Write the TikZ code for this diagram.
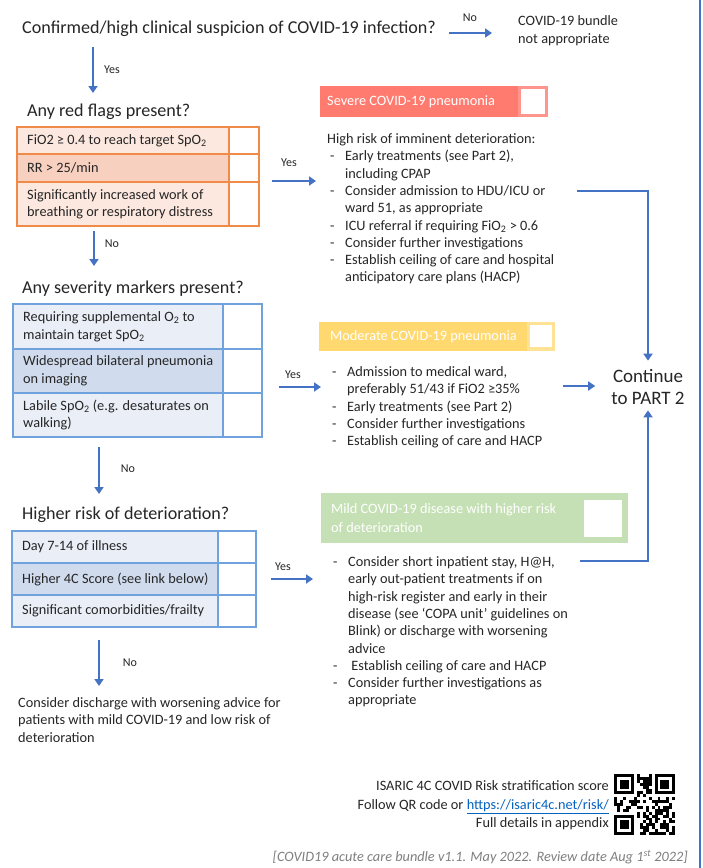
\documentclass[tikz,border=0pt]{standalone}
\usepackage{fontspec}
\setmainfont{Carlito}
\usetikzlibrary{arrows.meta}
\newcommand{\lstdash}{\makebox[18pt][l]{\hspace{3pt}-}}
\newcommand{\lstind}{\hspace{18pt}}
\newcommand{\lsub}[1]{\textsubscript{#1}}
\begin{document}
\begin{tikzpicture}[x=1pt, y=-1pt,
  every node/.style={inner sep=0pt, text=ink},
  arr/.style={draw=flowblue, line width=1.8pt, -{Triangle[width=9pt,length=7pt]}},
  yn/.style={font=\fontsize{12}{14}\selectfont},
  ques/.style={anchor=base west, font=\fontsize{18.1}{22}\selectfont},
  body/.style={font=\fontsize{14.3}{17.3}\selectfont},
  hdr/.style={anchor=west, text=white, font=\fontsize{14.3}{17}\selectfont}]
\definecolor{ink}{HTML}{262626}
\definecolor{flowblue}{HTML}{4472C4}
\definecolor{redlt}{HTML}{FCE8DF}
\definecolor{reddk}{HTML}{F7D0C0}
\definecolor{rededge}{HTML}{F08A48}
\definecolor{bluelt}{HTML}{E9EEF7}
\definecolor{bluedk}{HTML}{D0DBEE}
\definecolor{blueedge}{HTML}{70A3DD}
\definecolor{sevred}{HTML}{FF7B6F}
\definecolor{modyel}{HTML}{FFD970}
\definecolor{mildgrn}{HTML}{C5E0B4}
\definecolor{linkblue}{HTML}{0563C1}
\definecolor{footgrey}{HTML}{7F7F7F}
\useasboundingbox (0,0) rectangle (703,868);
\fill[white] (0,0) rectangle (703,868);
\draw[flowblue, line width=2pt] (700,0) -- (700,868);
% Questions
\node[ques] (q1) at (22,33) {Confirmed/high clinical suspicion of COVID-19 infection?};
\node[ques] (q2) at (27,116) {Any red flags present?};
\node[ques] (q3) at (22,293) {Any severity markers present?};
\node[ques] (q4) at (22,519) {Higher risk of deterioration?};
\node[body, anchor=west, align=left, font=\fontsize{14.3}{18}\selectfont] (noapp) at (518,31) {COVID-19 bundle\\not appropriate};
% Red flags table
\foreach \ya/\yb/\fillc/\txt [count=\k] in {
  127/154/redlt/{FiO2 ≥ 0.4 to reach target SpO\lsub{2}},
  154/182/reddk/{RR > 25/min},
  182/226/redlt/{Significantly increased work of\\breathing or respiratory distress}%
} {
  \fill[\fillc] (17,\ya) rectangle (229,\yb);
  \node[body, anchor=west, align=left] (red\k) at (27,{(\ya+\yb)/2}) {\txt};
}
\draw[rededge, line width=1.1pt] (17,127) rectangle (259,226) (229,127) -- (229,226)
  (17,154) -- (259,154) (17,182) -- (259,182);
% Severity markers table
\foreach \ya/\yb/\fillc/\txt [count=\k] in {
  304/349/bluelt/{Requiring supplemental O\lsub{2} to\\maintain target SpO\lsub{2}},
  349/393/bluedk/{Widespread bilateral pneumonia\\on imaging},
  393/437/bluelt/{Labile SpO\lsub{2} (e.g. desaturates on\\walking)}%
} {
  \fill[\fillc] (13,\ya) rectangle (223,\yb);
  \node[body, anchor=west, align=left, font=\fontsize{14.3}{17.8}\selectfont] (sev\k) at (23,{(\ya+\yb)/2}) {\txt};
}
\draw[blueedge, line width=1.1pt] (13,304) rectangle (262,437) (223,304) -- (223,437)
  (13,349) -- (262,349) (13,393) -- (262,393);
% Higher risk table
\foreach \ya/\yb/\fillc/\txt [count=\k] in {
  531/563/bluelt/{Day 7-14 of illness},
  563/595/bluedk/{Higher 4C Score (see link below)},
  595/627/bluelt/{Significant comorbidities/frailty}%
} {
  \fill[\fillc] (12,\ya) rectangle (218,\yb);
  \node[body, anchor=west, align=left] (hr\k) at (22,{(\ya+\yb)/2}) {\txt};
}
\draw[blueedge, line width=1.1pt] (12,531) rectangle (256,627) (218,531) -- (218,627)
  (12,563) -- (256,563) (12,595) -- (256,595);
% Outcome headers
\fill[sevred] (320,86) rectangle (548,117);
\fill[sevred!80!white] (518,86) rectangle (548,117);
\fill[white] (521,89) rectangle (545,114);
\node[hdr] (sevhdr) at (327,102) {Severe COVID-19 pneumonia};
\fill[modyel] (319,322) rectangle (555,351);
\fill[modyel!75!white] (527,322) rectangle (555,351);
\fill[white] (530,325) rectangle (552,347);
\node[hdr] (modhdr) at (330,337) {Moderate COVID-19 pneumonia};
\fill[mildgrn] (321,493) rectangle (628,543);
\fill[white] (584,500) rectangle (622,537);
\node[hdr, align=left, font=\fontsize{14.3}{19}\selectfont] (mildhdr) at (331,518) {Mild COVID-19 disease with higher risk\\of deterioration};
% Outcome texts
\node[body, anchor=base west] (sevtxt) at (327,143.5) {\begin{tabular}[t]{@{}l@{}}
High risk of imminent deterioration:\\
\lstdash Early treatments (see Part 2),\\
\lstind including CPAP\\
\lstdash Consider admission to HDU/ICU or\\
\lstind ward 51, as appropriate\\
\lstdash ICU referral if requiring FiO\lsub{2} > 0.6\\
\lstdash Consider further investigations\\
\lstdash Establish ceiling of care and hospital\\
\lstind anticipatory care plans (HACP)
\end{tabular}};
\node[body, anchor=base west] (modtxt) at (329,376.5) {\begin{tabular}[t]{@{}l@{}}
\lstdash Admission to medical ward,\\
\lstind preferably 51/43 if FiO2 ≥35\%\\
\lstdash Early treatments (see Part 2)\\
\lstdash Consider further investigations\\
\lstdash Establish ceiling of care and HACP
\end{tabular}};
\node[body, anchor=base west] (mildtxt) at (330,566.5) {\begin{tabular}[t]{@{}l@{}}
\lstdash Consider short inpatient stay, H@H,\\
\lstind early out-patient treatments if on\\
\lstind high-risk register and early in their\\
\lstind disease (see ‘COPA unit’ guidelines on\\
\lstind Blink) or discharge with worsening\\
\lstind advice\\
\lstdash \ Establish ceiling of care and HACP\\
\lstdash Consider further investigations as\\
\lstind appropriate
\end{tabular}};
\node[body, anchor=base west] (dischg) at (18,707.5) {\begin{tabular}[t]{@{}l@{}}
Consider discharge with worsening advice for\\
patients with mild COVID-19 and low risk of\\
deterioration
\end{tabular}};
\node[align=center, font=\fontsize{19}{22}\selectfont] (cont) at (648,386.5) {Continue\\to PART 2};
% Yes / No arrows
\coordinate (yes1) at (93,47);
\coordinate (redE) at (259,181);
\coordinate (no2) at (94,231);
\coordinate (blueE) at (262,387);
\coordinate (no3) at (99,447);
\coordinate (grnE) at (256,579);
\coordinate (no4) at (99,640);
\draw[arr, shorten <=13pt, shorten >=26pt] (q1.base east) -- (q1.base east -| noapp.west);
\node[yn] (nolbl1) at (470,18) {No};
\draw[arr] (yes1) -- (93,93);
\node[yn] (yeslbl1) at (112,70) {Yes};
\draw[arr, shorten <=13pt, shorten >=11pt] (redE) -- (redE -| sevtxt.west);
\node[yn] (yeslbl2) at (289,163) {Yes};
\draw[arr] (no2) -- (94,266);
\node[yn] (nolbl2) at (112,244) {No};
\draw[arr, shorten <=17pt, shorten >=8pt] (blueE) -- (blueE -| modtxt.west);
\node[yn] (yeslbl3) at (293,375) {Yes};
\draw[arr] (no3) -- (99,494);
\node[yn] (nolbl3) at (128,469) {No};
\draw[arr, shorten <=15pt, shorten >=17pt] (grnE) -- (grnE -| mildtxt.west);
\node[yn] (yeslbl4) at (283,567) {Yes};
\draw[arr] (no4) -- (99,686);
\node[yn] (nolbl4) at (130,663) {No};
% Routes to part 2
\coordinate (sevout) at (577,191);
\coordinate (modout) at (563,386);
\coordinate (mildout) at (580,561);
\draw[arr, shorten >=8pt] (sevout) -| (cont.north);
\draw[arr, shorten >=16pt] (modout) -- (modout -| cont.west);
\draw[arr, shorten >=6pt] (mildout) -| (cont.south);
% Risk score note and QR code
\node[body, anchor=base east, font=\fontsize{14.3}{18.5}\selectfont] (isaric) at (609,790.5) {\begin{tabular}[t]{@{}r@{}}
ISARIC 4C COVID Risk stratification score\\
Follow QR code or \textcolor{linkblue}{\underline{https://isaric4c.net/risk/}}\\
Full details in appendix
\end{tabular}};
\pgfmathsetseed{4127}
\foreach \i in {0,...,20} {
  \foreach \j in {0,...,20} {
    \pgfmathtruncatemacro{\skipit}{((\i<8)&&(\j<8)) || ((\i>12)&&(\j<8)) || ((\i<8)&&(\j>12))}
    \ifnum\skipit=0
      \pgfmathtruncatemacro{\bit}{rnd<0.5}
      \ifnum\bit=1 \fill[black] ({614+\i*2.9},{774+\j*2.9}) rectangle ++(2.95,2.95); \fi
    \fi
  }
}
\foreach \cx/\cy in {0/0, 14/0, 0/14} {
  \fill[black] ({614+\cx*2.9},{774+\cy*2.9}) rectangle ++(20.3,20.3);
  \fill[white] ({614+(\cx+1)*2.9},{774+(\cy+1)*2.9}) rectangle ++(14.5,14.5);
  \fill[black] ({614+(\cx+2)*2.9},{774+(\cy+2)*2.9}) rectangle ++(8.7,8.7);
}
\node[anchor=base east, font=\fontsize{14.3}{16}\selectfont\itshape, text=footgrey] (foot) at (688,861.5) {[COVID19 acute care bundle v1.1. May 2022. Review date Aug 1\textsuperscript{st} 2022]};
\end{tikzpicture}
\end{document}
